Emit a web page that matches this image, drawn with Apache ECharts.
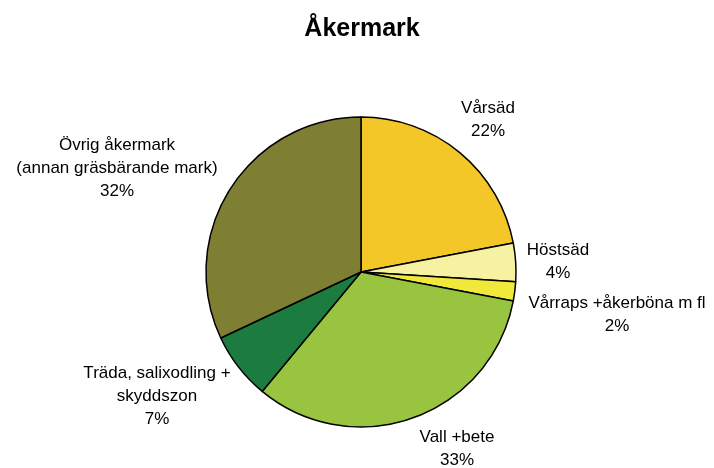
<!DOCTYPE html>
<html>
<head>
<meta charset="utf-8">
<script src="https://cdn.jsdelivr.net/npm/echarts@6/dist/echarts.min.js"></script>
<style>
    html, body { margin: 0; padding: 0; background: #fff; }
    #chart { width: 714px; height: 468px; }
</style>
</head>
<body>
<div id="chart"></div>
<script>
// andelar av åkermarken, medurs från kl 12
let categories = ['Vårsäd', 'Höstsäd', 'Vårraps +åkerböna m fl', 'Vall +bete', 'Träda, salixodling +\nskyddszon', 'Övrig åkermark\n(annan gräsbärande mark)'];
let shares = [22, 4, 2, 33, 7, 32];
let colors = ['#F4C728', '#F6F2A2', '#F0E93A', '#98C440', '#1C7C40', '#7F7F33'];

// var etiketterna sitter (mitten av textblocket)
let labelPos = [[488, 120], [558, 262], [617, 315], [457, 449], [157, 396], [117, 168]];

let chart = echarts.init(document.getElementById('chart'));

let option = {
    backgroundColor: '#fff',
    title: {
        text: 'Åkermark',
        left: 357,
        top: 12,
        textAlign: 'center',
        textStyle: {
            fontFamily: 'Liberation Sans',
            fontSize: 25,
            fontWeight: 'bold',
            color: '#000'
        }
    },
    series: [{
        type: 'pie',
        center: [361, 272],
        radius: 155,
        startAngle: 90,
        clockwise: true,
        animation: false,
        data: categories.map(function (name, i) {
            return {name: name, value: shares[i], itemStyle: {color: colors[i]}};
        }),
        itemStyle: {
            borderColor: '#000',
            borderWidth: 1.5
        },
        emphasis: {disabled: true},
        label: {
            show: true,
            position: 'outside',
            formatter: function (p) {
                return p.name + '\n' + p.value + '%';
            },
            fontFamily: 'Liberation Sans',
            fontSize: 17,
            lineHeight: 23,
            color: '#000',
            align: 'center',
            overflow: 'none',
            width: 300
        },
        labelLine: {show: false},
        labelLayout: function (params) {
            let pos = labelPos[params.dataIndex];
            return {
                x: pos[0],
                y: pos[1],
                align: 'center',
                verticalAlign: 'middle'
            };
        }
    }]
};

chart.setOption(option);
</script>
</body>
</html>
